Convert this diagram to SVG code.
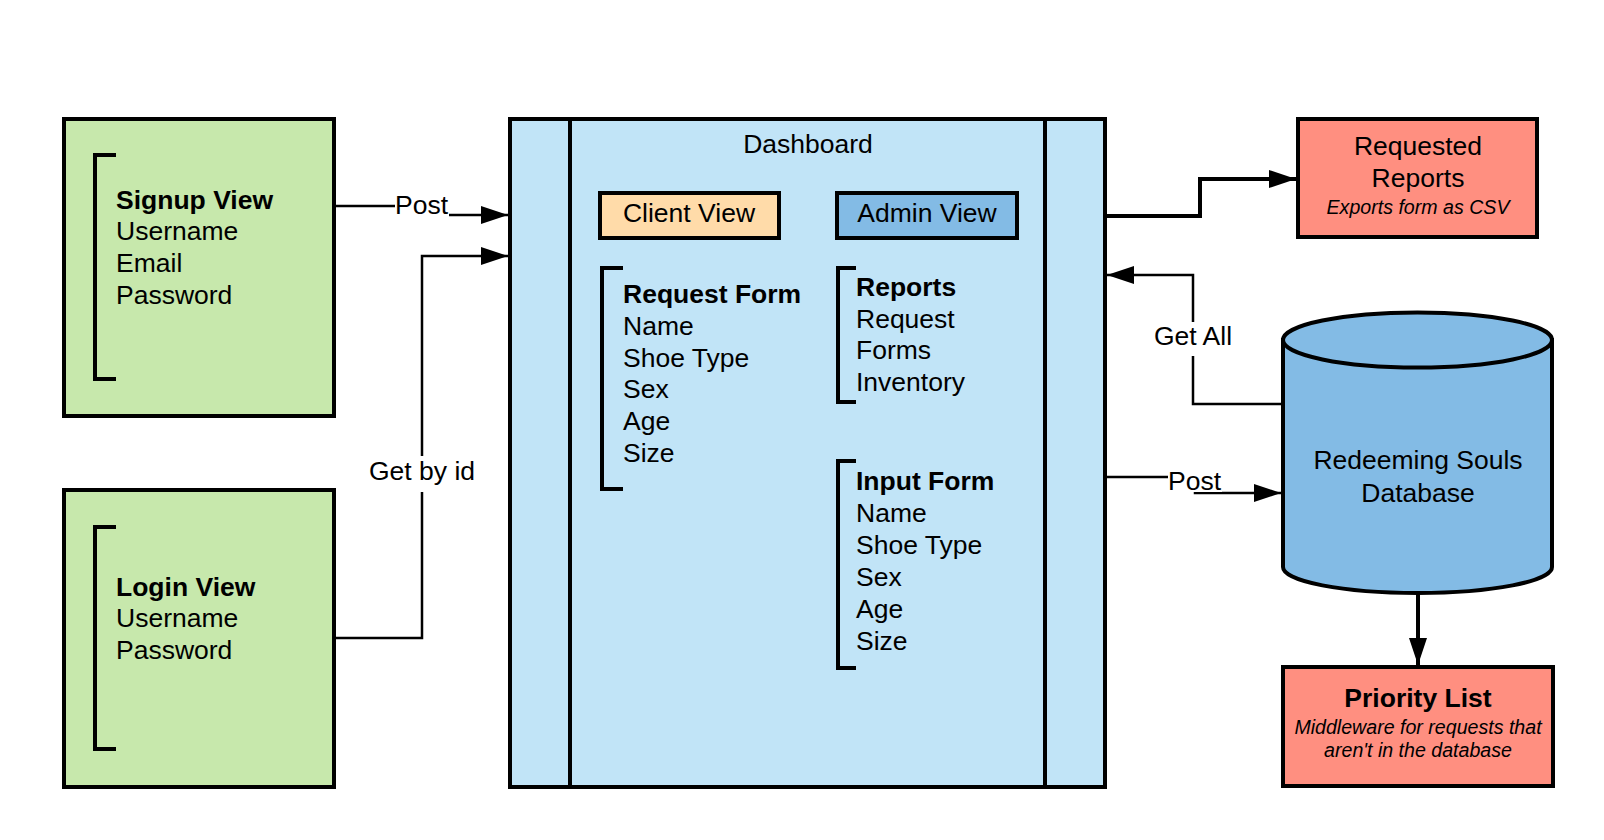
<svg xmlns="http://www.w3.org/2000/svg" width="1604" height="840" viewBox="0 0 1604 840">
<defs>
<style>
text{font-family:"Liberation Sans",Arial,sans-serif;fill:#000}
.t{font-size:26.5px}
.b{font-size:26.5px;font-weight:bold}
.i{font-size:19.6px;font-style:italic}
.c{text-anchor:middle}
.box{stroke:#000;stroke-width:4}
.br{fill:none;stroke:#000;stroke-width:4}
.ln{fill:none;stroke:#000;stroke-width:2.5}
.thick{fill:none;stroke:#000;stroke-width:4}
.lbg{fill:#fff}
</style>
<marker id="ah" viewBox="0 0 27 18" markerWidth="27" markerHeight="18" refX="27" refY="9" orient="auto" markerUnits="userSpaceOnUse">
<path d="M0,0 L27,9 L0,18 Z" fill="#000"/>
</marker>
</defs>
<rect width="1604" height="840" fill="#fff"/>

<g id="signup-view">
<rect class="box" x="64" y="119" width="270" height="297" fill="#C7E8AC"/>
<path class="br" d="M116,155 H95 V379 H116"/>
<text class="b" x="116" y="209">Signup View</text>
<text class="t" x="116" y="240">Username</text>
<text class="t" x="116" y="272">Email</text>
<text class="t" x="116" y="304">Password</text>
</g>

<g id="login-view">
<rect class="box" x="64" y="490" width="270" height="297" fill="#C7E8AC"/>
<path class="br" d="M116,527 H95 V749 H116"/>
<text class="b" x="116" y="596">Login View</text>
<text class="t" x="116" y="627">Username</text>
<text class="t" x="116" y="659">Password</text>
</g>

<g id="dashboard">
<rect class="box" x="510" y="119" width="595" height="668" fill="#C1E4F7"/>
<line class="box" x1="570" y1="119" x2="570" y2="787"/>
<line class="box" x1="1045" y1="119" x2="1045" y2="787"/>
<text class="t c" x="808" y="153">Dashboard</text>
</g>

<g id="client-view">
<rect class="box" x="600" y="193" width="179" height="45" fill="#FFDBA9"/>
<text class="t c" x="689" y="222">Client View</text>
</g>

<g id="admin-view">
<rect class="box" x="837" y="193" width="180" height="45" fill="#83BBE5"/>
<text class="t c" x="927" y="222">Admin View</text>
</g>

<g id="request-form">
<path class="br" d="M623,268 H602 V489 H623"/>
<text class="b" x="623" y="303">Request Form</text>
<text class="t" x="623" y="335">Name</text>
<text class="t" x="623" y="367">Shoe Type</text>
<text class="t" x="623" y="398">Sex</text>
<text class="t" x="623" y="430">Age</text>
<text class="t" x="623" y="462">Size</text>
</g>

<g id="reports">
<path class="br" d="M856,268 H838 V402 H856"/>
<text class="b" x="856" y="296">Reports</text>
<text class="t" x="856" y="328">Request</text>
<text class="t" x="856" y="359">Forms</text>
<text class="t" x="856" y="391">Inventory</text>
</g>

<g id="input-form">
<path class="br" d="M856,461 H838 V668 H856"/>
<text class="b" x="856" y="490">Input Form</text>
<text class="t" x="856" y="522">Name</text>
<text class="t" x="856" y="554">Shoe Type</text>
<text class="t" x="856" y="586">Sex</text>
<text class="t" x="856" y="618">Age</text>
<text class="t" x="856" y="650">Size</text>
</g>

<g id="requested-reports">
<rect class="box" x="1298" y="119" width="239" height="118" fill="#FF8F80"/>
<text class="t c" x="1418" y="155">Requested</text>
<text class="t c" x="1418" y="187">Reports</text>
<text class="i c" x="1418" y="214">Exports form as CSV</text>
</g>

<g id="database">
<path class="box" d="M1283,340 V567 A134.5,26 0 0 0 1552,567 V340 Z" fill="#83BBE5"/>
<ellipse class="box" cx="1417.5" cy="340" rx="134.5" ry="27.5" fill="#83BBE5"/>
<text class="t c" x="1418" y="469">Redeeming Souls</text>
<text class="t c" x="1418" y="502">Database</text>
</g>

<g id="priority-list">
<rect class="box" x="1283" y="667" width="270" height="119" fill="#FF8F80"/>
<text class="b c" x="1418" y="707">Priority List</text>
<text class="i c" x="1418" y="734">Middleware for requests that</text>
<text class="i c" x="1418" y="757">aren't in the database</text>
</g>

<g id="connectors">
<path class="ln" d="M334,206 H420 V215 H508" marker-end="url(#ah)"/>
<rect class="lbg" x="395" y="194" width="54" height="24"/>
<text class="t" x="395" y="214">Post</text>

<path class="ln" d="M334,638 H422 V256 H508" marker-end="url(#ah)"/>
<rect class="lbg" x="366" y="456" width="112" height="36"/>
<text class="t c" x="422" y="480">Get by id</text>

<path class="thick" d="M1105,216 H1200 V179 H1296" marker-end="url(#ah)"/>

<path class="ln" d="M1283,404 H1193 V275 H1107" marker-end="url(#ah)"/>
<rect class="lbg" x="1151" y="322" width="84" height="34"/>
<text class="t c" x="1193" y="345">Get All</text>

<path class="ln" d="M1105,477 H1195 V493 H1281" marker-end="url(#ah)"/>
<rect class="lbg" x="1168" y="465" width="54" height="27"/>
<text class="t" x="1168" y="490">Post</text>

<path class="thick" d="M1418,593 V665" marker-end="url(#ah)"/>
</g>
</svg>
